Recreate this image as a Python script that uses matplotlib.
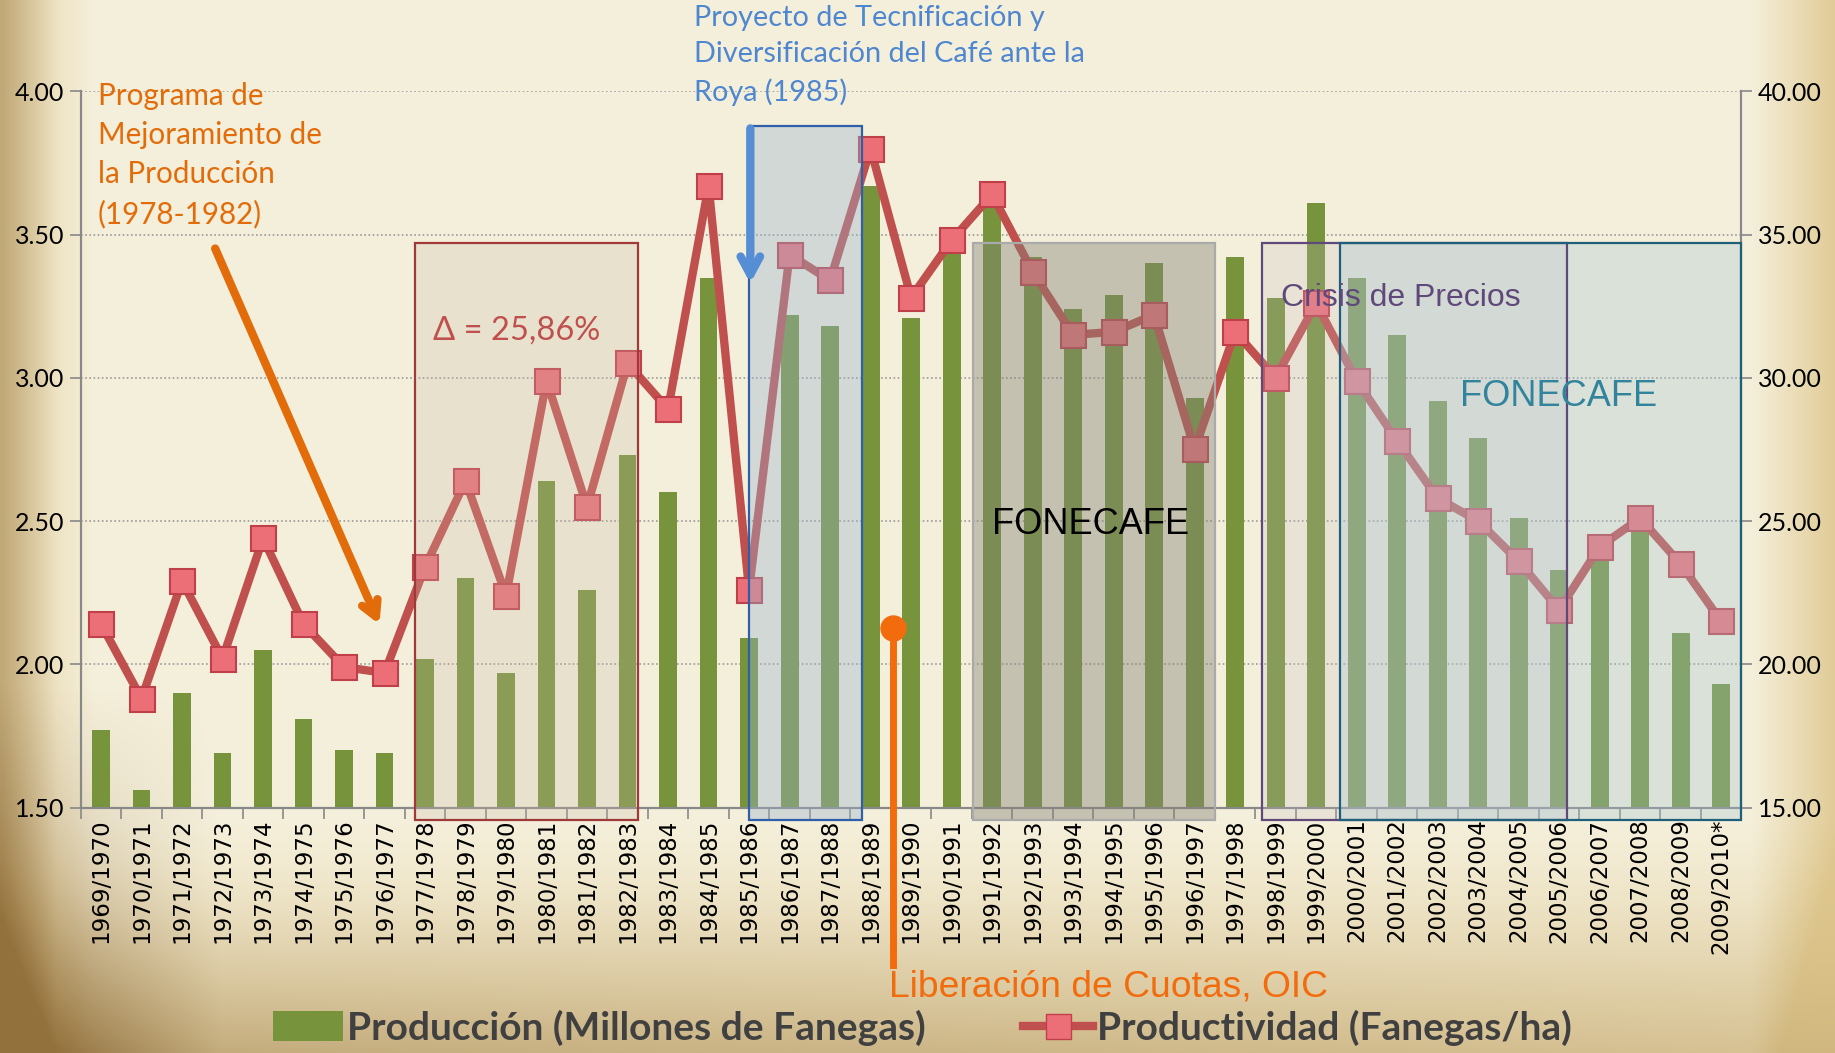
import numpy as np
import matplotlib
matplotlib.use("Agg")
from matplotlib import pyplot as plt
from matplotlib.patches import Rectangle, Patch
from matplotlib.lines import Line2D

# data
seasons = ["1969/1970", "1970/1971", "1971/1972", "1972/1973", "1973/1974",
           "1974/1975", "1975/1976", "1976/1977", "1977/1978", "1978/1979",
           "1979/1980", "1980/1981", "1981/1982", "1982/1983", "1983/1984",
           "1984/1985", "1985/1986", "1986/1987", "1987/1988", "1988/1989",
           "1989/1990", "1990/1991", "1991/1992", "1992/1993", "1993/1994",
           "1994/1995", "1995/1996", "1996/1997", "1997/1998", "1998/1999",
           "1999/2000", "2000/2001", "2001/2002", "2002/2003", "2003/2004",
           "2004/2005", "2005/2006", "2006/2007", "2007/2008", "2008/2009",
           "2009/2010*"]
produccion = [1.77, 1.56, 1.90, 1.69, 2.05, 1.81, 1.70, 1.69, 2.02, 2.30,
              1.97, 2.64, 2.26, 2.73, 2.60, 3.35, 2.09, 3.22, 3.18, 3.67,
              3.21, 3.45, 3.60, 3.42, 3.24, 3.29, 3.40, 2.93, 3.42, 3.28,
              3.61, 3.35, 3.15, 2.92, 2.79, 2.51, 2.33, 2.38, 2.47, 2.11,
              1.93]
productividad = [21.4, 18.8, 22.9, 20.2, 24.4, 21.4, 19.9, 19.7, 23.4, 26.4,
                 22.4, 29.9, 25.5, 30.5, 28.9, 36.7, 22.6, 34.3, 33.4, 38.0,
                 32.8, 34.8, 36.4, 33.7, 31.5, 31.6, 32.2, 27.5, 31.6, 30.0,
                 32.6, 29.9, 27.8, 25.8, 25.0, 23.6, 21.9, 24.1, 25.1, 23.5,
                 21.5]

W, H = 1835, 1053
fig = plt.figure(figsize=(W / 100, H / 100), dpi=100)

# parchment background
bg = fig.add_axes([0, 0, 1, 1], zorder=-10)
yy, xx = np.mgrid[0:1:264j, 0:1:460j]
cream = np.array([0.96, 0.94, 0.86])
brown = np.array([0.50, 0.36, 0.16])
tan = np.array([0.85, 0.74, 0.48])
w_dark = (np.clip((0.03 - xx) / 0.03, 0, 1) * 0.35
          + np.clip((yy - 0.82) / 0.18, 0, 1) ** 1.5 * 0.35 * (1 - 0.6 * xx)
          + np.clip((yy - 0.65) / 0.35, 0, 1) * np.clip((0.12 - xx) / 0.12, 0, 1) * 0.6)
w_tan = (np.clip((0.05 - xx) / 0.05, 0, 1) * 0.6
         + np.clip((xx - 0.955) / 0.045, 0, 1) * 0.7
         + np.clip((yy - 0.78) / 0.22, 0, 1) * 0.55)
w_dark = np.clip(w_dark, 0, 0.8)
w_tan = np.clip(w_tan, 0, 0.8)
img = cream * (1 - w_tan[..., None]) + tan * w_tan[..., None]
img = img * (1 - w_dark[..., None]) + brown * w_dark[..., None]
bg.imshow(img, aspect="auto", interpolation="bilinear", extent=[0, 1, 0, 1])
bg.axis("off")

ax = fig.add_axes([80.8 / W, 1 - 807.5 / H, (1741.4 - 80.8) / W, (807.5 - 91.3) / H])
ax.set_facecolor("none")
ax2 = ax.twinx()

x = np.arange(len(seasons))
ax.bar(x, produccion, width=0.44, color="#77933c", zorder=2)
ax.set_ylim(1.5, 4.0)
ax.set_xlim(-0.5, len(seasons) - 0.5)
ax.set_yticks(np.arange(1.5, 4.01, 0.5))
ax.set_yticklabels(["%.2f" % v for v in np.arange(1.5, 4.01, 0.5)],
                   fontsize=18, family="Lato")
ax.grid(axis="y", color="#9a9a9a", linestyle=(0, (1, 1.5)), linewidth=1.2)
ax.set_axisbelow(True)

ax.set_xticks(x)
ax.set_xticklabels(seasons, rotation=90, fontsize=16.5, family="DejaVu Sans")
ax.set_xticks(np.arange(-0.5, len(seasons), 1), minor=True)
ax.tick_params(axis="x", which="major", length=0, pad=8)
ax.tick_params(axis="x", which="minor", length=8, color="#888888", width=1.2)
ax.tick_params(axis="y", length=8, color="#888888", width=1.2, pad=4)

ax2.plot(x, productividad, color="#c0504d", linewidth=6, marker="s",
         markersize=18, markerfacecolor="#ec6f78", markeredgecolor="#c0404a",
         markeredgewidth=1.5, zorder=3)
ax2.set_ylim(15, 40)
ax2.set_yticks(np.arange(15, 40.1, 5))
ax2.set_yticklabels(["%.2f" % v for v in np.arange(15, 40.1, 5)],
                    fontsize=18, family="Lato")
ax2.tick_params(axis="y", length=8, color="#888888", width=1.2, pad=4)

for a in (ax, ax2):
    a.spines["top"].set_visible(False)
    for s in ("left", "right", "bottom"):
        a.spines[s].set_color("#888888")
        a.spines[s].set_linewidth(1.5)

# shaded periods (in left-axis data coords)
boxes = [
    (7.75, 13.25, 3.47, "#c8b8a8", 0.25, "#a0393a"),
    (16.0, 18.8, 3.88, "#9ab4cc", 0.38, "#2e5fa8"),
    (21.52, 27.5, 3.47, "#858378", 0.42, "#aaaaaa"),
    (28.66, 36.2, 3.47, "#c4bcc8", 0.22, "#5f497a"),
    (30.6, 40.5, 3.47, "#a5c6d2", 0.32, "#1f5f7a"),
]
for x0, x1, top, fc, al, ec in boxes:
    ax2.add_patch(Rectangle((x0, 1.455), x1 - x0, top - 1.455, transform=ax.transData,
                            facecolor=fc, alpha=al, edgecolor="none",
                            zorder=4, clip_on=False))
    ax2.add_patch(Rectangle((x0, 1.455), x1 - x0, top - 1.455, transform=ax.transData,
                            facecolor="none", edgecolor=ec, linewidth=1.6,
                            zorder=5, clip_on=False))

# arrows and markers
ax2.annotate("", xy=(6.9, 2.13), xytext=(2.79, 3.46),
             xycoords=ax.transData, textcoords=ax.transData,
             arrowprops=dict(arrowstyle="->, head_length=1.1, head_width=0.6",
                             color="#e36c0a", lw=6), zorder=6)
ax2.annotate("", xy=(16.03, 3.32), xytext=(16.03, 3.88),
             xycoords=ax.transData, textcoords=ax.transData,
             arrowprops=dict(arrowstyle="->, head_length=1.3, head_width=0.7",
                             color="#558ed5", lw=6), zorder=6)
ax2.plot([19.56, 19.56], [2.125, 0.95], transform=ax.transData, color="#f26c0d",
         lw=5, clip_on=False, zorder=6)
ax2.plot([19.56], [2.125], transform=ax.transData, marker="o", markersize=18,
         color="#f26c0d", clip_on=False, zorder=6)

# annotations
fig.text(98 / W, 1 - 82 / H, "Programa de\nMejoramiento de\nla Producción\n(1978-1982)",
         color="#e36c0a", fontsize=21.3, family="Lato", va="top", ha="left",
         linespacing=1.48)
fig.text(694 / W, 1 - 5 / H, "Proyecto de Tecnificación y\nDiversificación del Café ante la\nRoya (1985)",
         color="#4f86d0", fontsize=20.8, family="Lato", va="top", ha="left",
         linespacing=1.48)
fig.text(433 / W, 1 - 331 / H, "Δ = 25,86%", color="#c0504d", fontsize=23.5,
         family="Lato", va="center", ha="left")
fig.text(1091 / W, 1 - 524 / H, "FONECAFE", color="black", fontsize=26,
         family="Liberation Sans", va="center", ha="center")
fig.text(1401 / W, 1 - 298 / H, "Crisis de Precios", color="#5f497a", fontsize=23,
         family="Liberation Sans", va="center", ha="center")
fig.text(1559 / W, 1 - 396 / H, "FONECAFE", color="#31849b", fontsize=26,
         family="Liberation Sans", va="center", ha="center")
fig.text(889 / W, 1 - 987 / H, "Liberación de Cuotas, OIC", color="#f26c0d",
         fontsize=26.8, family="Liberation Sans", va="center", ha="left")

handles = [Patch(facecolor="#77933c", edgecolor="none"),
           Line2D([], [], color="#c0504d", lw=6, marker="s", markersize=18,
                  markerfacecolor="#ec6f78", markeredgecolor="#c0404a")]
labels = ["Producción (Millones de Fanegas)", "Productividad (Fanegas/ha)"]
fig.legend(handles, labels, loc="center", bbox_to_anchor=(0.5025, 0.024), ncol=2,
           frameon=False, handlelength=1.8, handleheight=0.8, handletextpad=0.1,
           columnspacing=2.5, prop=dict(family="Lato", weight="bold", size=28),
           labelcolor="#404040")

fig.savefig("out.png", dpi=100)
